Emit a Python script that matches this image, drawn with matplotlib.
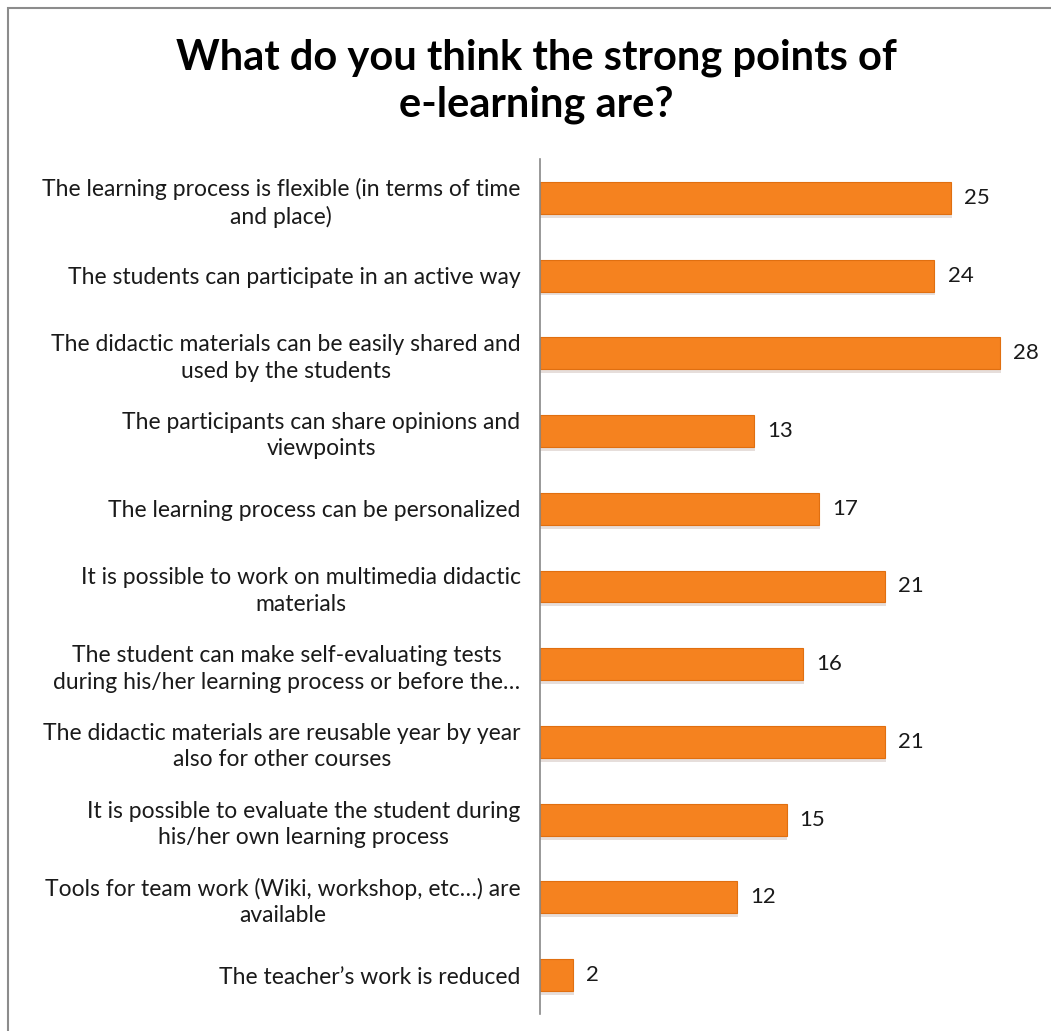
import matplotlib.pyplot as plt
from matplotlib.patches import Rectangle

# survey answers, top to bottom
labels = [
    "The learning process is flexible (in terms of time\nand place)",
    "The students can participate in an active way",
    "The didactic materials can be easily shared and\nused by the students",
    "The participants can share opinions and\nviewpoints",
    "The learning process can be personalized",
    "It is possible to work on multimedia didactic\nmaterials",
    "The student can make self-evaluating tests\nduring his/her learning process or before the\u2026",
    "The didactic materials are reusable year by year\nalso for other courses",
    "It is possible to evaluate the student during\nhis/her own learning process",
    "Tools for team work (Wiki, workshop, etc\u2026) are\navailable",
    "The teacher\u2019s work is reduced",
]
counts = [25, 24, 28, 13, 17, 21, 16, 21, 15, 12, 2]

title = "What do you think the strong points of\ne-learning are?"

plt.rcParams['font.family'] = ['Lato', 'DejaVu Sans']

W, H = 1051, 1031
fig = plt.figure(figsize=(W / 100, H / 100), dpi=100)

# grey frame (only top / left edge visible in the original)
fig.patches.append(Rectangle((8 / W, -0.05), 1.2, 1 - 8 / H + 0.05,
                             transform=fig.transFigure, fill=False,
                             edgecolor='#8c8c8c', linewidth=1.5))

ax = fig.add_axes([540 / W, 1 - 1014 / H, 493 / W, 855 / H])

ypos = list(range(len(counts)))
# soft shadow under the bars
ax.barh([y + 0.05 for y in ypos], [c + 0.06 for c in counts], height=0.41,
        color='#c9b7b0', alpha=0.45, zorder=1)
bars = ax.barh(ypos, counts, height=0.41, color='#F5821F',
               edgecolor='#E06F10', linewidth=0.8, zorder=2)

for y, c in zip(ypos, counts):
    ax.text(c + 0.8, y, str(c), va='center', ha='left', fontsize=16,
            color='#1a1a1a')

ax.set_xlim(0, 30)
ax.set_ylim(len(counts) - 0.5, -0.5)
ax.set_yticks(ypos)
ax.set_yticklabels(labels, fontsize=16.5, color='#1a1a1a',
                   multialignment='center', linespacing=1.32)
ax.tick_params(axis='y', length=0, pad=14)
ax.set_xticks([])
for s in ['top', 'right', 'bottom']:
    ax.spines[s].set_visible(False)
ax.spines['left'].set_color('#888888')
ax.spines['left'].set_linewidth(1.2)

fig.text(536 / W, 1 - 81 / H, title, ha='center', va='center',
         fontsize=30, fontweight='bold', linespacing=1.28, color='black')

fig.savefig('out.png', dpi=100, facecolor='white')
